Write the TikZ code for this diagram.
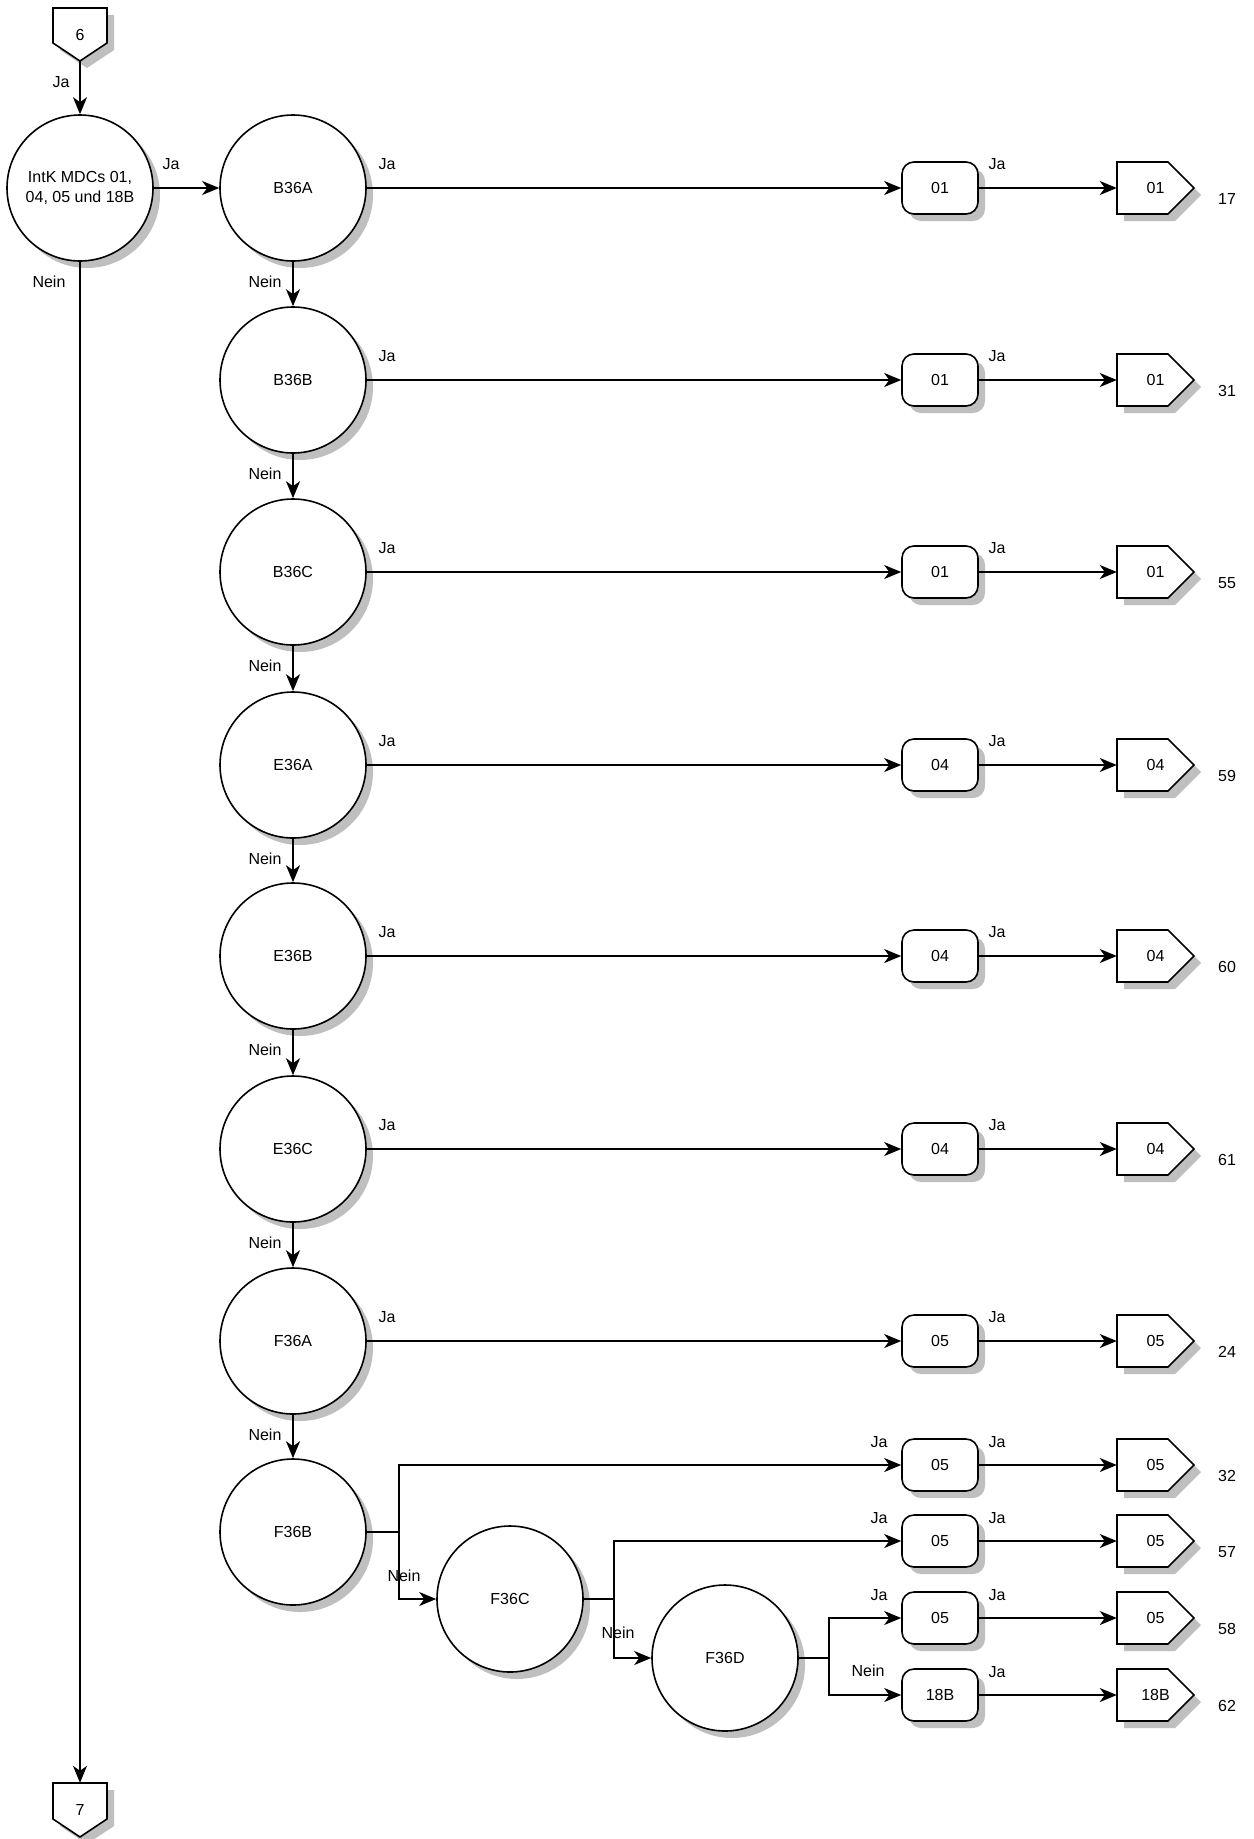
\documentclass[tikz,border=0pt]{standalone}
\usepackage{fontspec}
\setmainfont{Liberation Sans}
\usetikzlibrary{shadows,arrows.meta}
\begin{document}
\begin{tikzpicture}[x=1pt,y=-1pt,
 every node/.style={font=\fontsize{16}{20}\selectfont},
 base/.style={draw, line width=1.6pt, fill=white, drop shadow={shadow xshift=7pt, shadow yshift=-7pt, fill=black!25, opacity=1}},
 dec/.style={base, circle, minimum size=146pt, inner sep=0pt, align=center},
 res/.style={base, rectangle, rounded corners=12pt, minimum width=76pt, minimum height=52pt, inner sep=0pt},
 offr/.style={rectangle, minimum width=77pt, minimum height=52pt, inner sep=0pt},
 offd/.style={rectangle, minimum width=54pt, minimum height=53pt, inner sep=0pt},
 arr/.style={line width=1.6pt, -{Stealth[length=17pt,width=14pt,inset=5pt]}},
 ln/.style={line width=1.6pt},
 lab/.style={inner sep=0pt}
]
\useasboundingbox (0,0) rectangle (1253,1839);
\fill[white] (0,0) rectangle (1253,1839);

% top part
\draw[base] (53,8) -- (107,8) -- (107,43) -- (80,61) -- (53,43) -- cycle;
\node[offd] (p6) at (80,34.5) {6};
\node[dec] (intk) at (80,188) {IntK MDCs 01,\\04, 05 und 18B};
\draw[base] (53,1783) -- (107,1783) -- (107,1819) -- (80,1837) -- (53,1819) -- cycle;
\node[offd] (p7) at (80,1809.5) {7};
\draw[arr] (p6.south) -- (intk.north);
\draw[arr] (intk.south) -- (p7.north);
\node[lab] (lja0) at (61,82) {Ja};
\node[lab] (lja1) at (171,164) {Ja};
\node[lab] (lnein0) at (49,282) {Nein};

% main column
\foreach \n/\y/\t/\num [count=\i] in {B36A/188/01/17, B36B/380/01/31, B36C/572/01/55, E36A/765/04/59, E36B/956/04/60, E36C/1149/04/61, F36A/1341/05/24} {
  \node[dec] (c\i) at (293,\y) {\n};
  \node[res] (r\i) at (940,\y) {\t};
  \draw[base] (1117,\y-26) -- (1168,\y-26) -- (1194,\y) -- (1168,\y+26) -- (1117,\y+26) -- cycle;
  \node[offr] (o\i) at (1155.5,\y) {\t};
  \node[lab] (n\i) at (1227,\y+11) {\num};
  \draw[arr] (c\i) -- (r\i);
  \draw[arr] (r\i) -- (o\i);
  \node[lab] (ja\i) at (387,\y-24) {Ja};
  \node[lab] (jb\i) at (997,\y-24) {Ja};
  \node[lab] (ne\i) at (265,\y+94) {Nein};
}
\node[dec] (c8) at (293,1532) {F36B};
\draw[arr] (intk) -- (c1);
\foreach \i/\j in {1/2,2/3,3/4,4/5,5/6,6/7,7/8} {
  \draw[arr] (c\i.south) -- (c\j.north);
}

% lower branches
\node[dec] (f36c) at (510,1599) {F36C};
\node[dec] (f36d) at (725,1658) {F36D};
\foreach \t/\y/\num [count=\i] in {05/1465/32, 05/1541/57, 05/1618/58, 18B/1695/62} {
  \node[res] (rb\i) at (940,\y) {\t};
  \draw[base] (1117,\y-26) -- (1168,\y-26) -- (1194,\y) -- (1168,\y+26) -- (1117,\y+26) -- cycle;
  \node[offr] (ob\i) at (1155.5,\y) {\t};
  \node[lab] (nb\i) at (1227,\y+11) {\num};
  \draw[arr] (rb\i) -- (ob\i);
  \node[lab] (jbb\i) at (997,\y-23) {Ja};
}
\node[lab] (jab1) at (879,1442) {Ja};
\node[lab] (jab2) at (879,1518) {Ja};
\node[lab] (jab3) at (879,1595) {Ja};
\node[lab] (neb4) at (868,1671) {Nein};

\coordinate (jB) at (399,1532);
\coordinate (jC) at (614,1599);
\coordinate (jD) at (829,1658);
\draw[ln] (c8.east) -- (jB);
\draw[arr] (jB) |- (rb1.west);
\draw[arr] (jB) |- (f36c.west);
\draw[ln] (f36c.east) -- (jC);
\draw[arr] (jC) |- (rb2.west);
\draw[arr] (jC) |- (f36d.west);
\draw[ln] (f36d.east) -- (jD);
\draw[arr] (jD) |- (rb3.west);
\draw[arr] (jD) |- (rb4.west);
\node[lab] (neB) at (404,1576) {Nein};
\node[lab] (neC) at (618,1633) {Nein};
\end{tikzpicture}
\end{document}
